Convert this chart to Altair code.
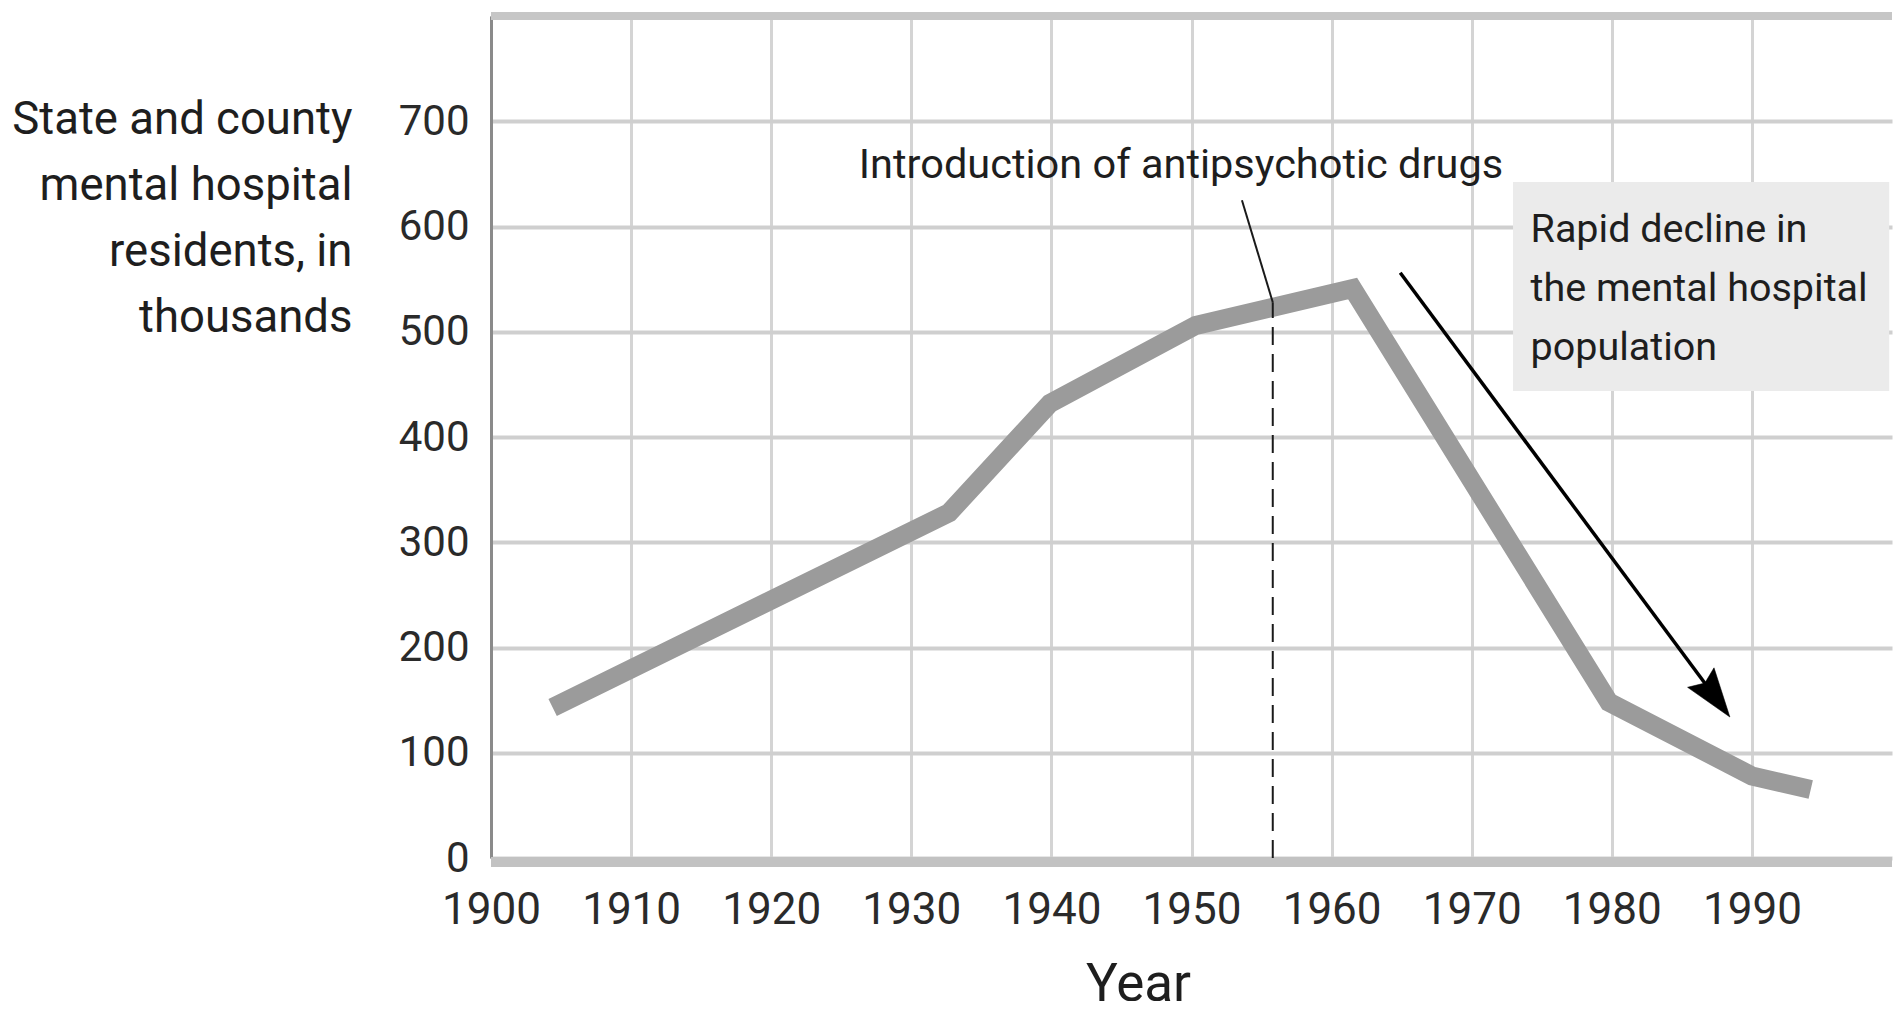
import altair as alt
import pandas as pd

FONT = "Roboto"
TEXT_COLOR = "#1e1e1e"

# ---- data ----
years = [1904.4, 1932.7, 1939.9, 1950.3, 1961.5, 1979.8, 1990.0, 1994.2]
residents = [143, 328, 432, 506, 541, 148, 78, 65]

x_ticks = [1900, 1910, 1920, 1930, 1940, 1950, 1960, 1970, 1980, 1990]
y_ticks = [0, 100, 200, 300, 400, 500, 600, 700]
x_domain = [1900, 2000]
y_domain = [0, 800]

y_title = ["State and county", "mental hospital", "residents, in", "thousands"]
x_title = "Year"

drug_label = "Introduction of antipsychotic drugs"
drug_label_pos = [1949.25, 646]
drug_year = 1955.8
drug_value = 528
leader_start = [1953.6, 625]

decline_lines = "Rapid decline in\nthe mental hospital\npopulation"
decline_box_x = [1972.95, 1999.8]
decline_box_y = [443.7, 642.3]
decline_text_pos = [1974.2, 585.3]

arrow_start = [1964.9, 556]
arrow_line_end = [1987.15, 157]
arrow_head_center = [1987.39, 152.7]
arrow_angle = 143.6

# ---- tables ----
df_line = pd.DataFrame({"year": years, "value": residents})

xs = alt.Scale(domain=x_domain, nice=False, zero=False)
ys = alt.Scale(domain=y_domain, nice=False, zero=True)

x_axis = alt.Axis(
    values=x_ticks, format="d", title=x_title,
    titleFont=FONT, titleFontSize=53, titleFontWeight="normal", titleColor=TEXT_COLOR,
    titleX=647, titleY=142, titleAlign="center", titleBaseline="alphabetic",
    labelFont=FONT, labelFontSize=44, labelColor="#2a2a2a", labelPadding=30,
    labelFlush=False, labelOverlap=False, labelBound=False,
    ticks=False, domain=False,
    grid=True, gridColor="#d4d4d4", gridWidth=3,
)
y_axis = alt.Axis(
    values=y_ticks, title=y_title,
    titleFont=FONT, titleFontSize=45.5, titleFontWeight="normal", titleColor=TEXT_COLOR,
    titleAngle=0, titleAlign="right", titleBaseline="alphabetic",
    titleX=-139, titleY=117, titleLineHeight=66,
    labelFont=FONT, labelFontSize=42, labelColor="#2a2a2a", labelPadding=22,
    ticks=False, domain=True, domainColor="#8a8a8a", domainWidth=3,
    grid=True, gridColor="#cfcfcf", gridWidth=4,
)


def X(field):
    return alt.X(field, type="quantitative", scale=xs, axis=x_axis)


def Y(field):
    return alt.Y(field, type="quantitative", scale=ys, axis=y_axis)


line = alt.Chart(df_line).mark_line(
    color="#9b9b9b", strokeWidth=19, strokeCap="butt", strokeJoin="miter"
).encode(x=X("year"), y=Y("value"))

# top border bar (at the 800 level) and thick bottom bar
frame_df = pd.DataFrame({"x": [x_domain[0]], "x2": [x_domain[1]],
                         "ytop": [y_domain[1]], "ybot": [y_domain[0]]})
top_bar = alt.Chart(frame_df).mark_rule(color="#c6c6c6", strokeWidth=8).encode(
    x=X("x"), x2="x2:Q", y=Y("ytop"),
)
bottom_bar = alt.Chart(frame_df).mark_rule(color="#c2c2c2", strokeWidth=10, yOffset=4).encode(
    x=X("x"), x2="x2:Q", y=Y("ybot"),
)

# decline box
box_df = pd.DataFrame({"x": [decline_box_x[0]], "x2": [decline_box_x[1]],
                       "y": [decline_box_y[0]], "y2": [decline_box_y[1]]})
box = alt.Chart(box_df).mark_rect(color="#ebebeb").encode(
    x=X("x"), x2="x2:Q", y=Y("y"), y2="y2:Q",
)
box_text_df = pd.DataFrame({"x": [decline_text_pos[0]], "y": [decline_text_pos[1]],
                            "t": [decline_lines]})
box_text = alt.Chart(box_text_df).mark_text(
    font=FONT, fontSize=39.5, color=TEXT_COLOR, align="left", baseline="alphabetic",
    lineBreak="\n", lineHeight=59,
).encode(x=X("x"), y=Y("y"), text="t:N")

# dashed drug-introduction line and leader
dash_df = pd.DataFrame({"x": [drug_year], "y": [y_domain[0]], "y2": [drug_value]})
dash = alt.Chart(dash_df).mark_rule(color="#1a1a1a", strokeWidth=2, strokeDash=[18, 9]).encode(
    x=X("x"), y=Y("y"), y2="y2:Q",
)
leader_df = pd.DataFrame({"x": [leader_start[0]], "x2": [drug_year],
                          "y": [leader_start[1]], "y2": [drug_value]})
leader = alt.Chart(leader_df).mark_rule(color="#1a1a1a", strokeWidth=2).encode(
    x=X("x"), x2="x2:Q", y=Y("y"), y2="y2:Q",
)
drug_text_df = pd.DataFrame({"x": [drug_label_pos[0]], "y": [drug_label_pos[1]], "t": [drug_label]})
drug_text = alt.Chart(drug_text_df).mark_text(
    font=FONT, fontSize=41.5, color=TEXT_COLOR, align="center", baseline="alphabetic",
).encode(x=X("x"), y=Y("y"), text="t:N")

# arrow
arrow_df = pd.DataFrame({"x": [arrow_start[0]], "x2": [arrow_line_end[0]],
                         "y": [arrow_start[1]], "y2": [arrow_line_end[1]]})
arrow_line = alt.Chart(arrow_df).mark_rule(color="#000000", strokeWidth=3.5).encode(
    x=X("x"), x2="x2:Q", y=Y("y"), y2="y2:Q",
)
head_df = pd.DataFrame({"x": [arrow_head_center[0]], "y": [arrow_head_center[1]]})
arrow_head = alt.Chart(head_df).mark_point(
    shape="M0,-1L0.67,1L0,0.72L-0.67,1Z", size=2401, filled=True, fill="#000000",
    stroke="#000000", strokeWidth=0.5, opacity=1, angle=arrow_angle,
).encode(x=X("x"), y=Y("y"))

chart = alt.layer(
    line, box, box_text, top_bar, bottom_bar, dash, leader, drug_text, arrow_line, arrow_head
).properties(
    width=1401, height=842,
    padding={"left": 483, "top": 8, "right": 2, "bottom": 143},
    autosize=alt.AutoSizeParams(type="none"),
    background="white",
).configure_view(stroke=None)

chart.save("out.html", embed_options={"renderer": "svg", "actions": False})
